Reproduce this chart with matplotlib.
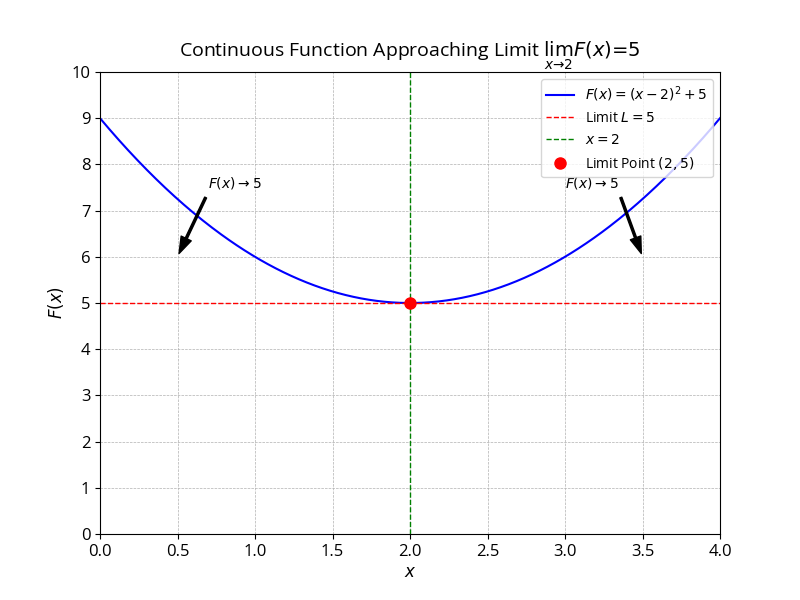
import matplotlib
matplotlib.use('Agg')
import matplotlib.pyplot as plt
import numpy as np

plt.rcParams['font.family'] = ['Open Sans', 'DejaVu Sans']

# curve F(x) = (x-2)^2 + 5 on [0, 4]
x_min, x_max = 0, 4
limit_x = 2
limit_L = 5
arrow_text_pos = [(0.7, 7.5), (3.0, 7.5)]
arrow_tips = [(0.5, 6.0), (3.5, 6.0)]


def F(x):
	return (x - 2) ** 2 + 5


def main():
	x = np.linspace(x_min, x_max, 400)
	fig, ax = plt.subplots(figsize=(8, 6), dpi=100)
	ax.plot(x, F(x), color='blue', label=r'$F(x) = (x - 2)^2 + 5$')
	ax.axhline(limit_L, color='red', linestyle='--', linewidth=1, label=r'Limit $L = 5$')
	ax.axvline(limit_x, color='green', linestyle='--', linewidth=1, label=r'$x = 2$')
	ax.plot(limit_x, limit_L, 'o', color='red', markersize=8, label=r'Limit Point $(2, 5)$')

	for txt, tip in zip(arrow_text_pos, arrow_tips):
		ax.annotate(r'$F(x) \to 5$', xy=tip, xytext=txt,
			arrowprops=dict(facecolor='black', shrink=0.05, width=1.5, headwidth=8))

	ax.set_title(r'Continuous Function Approaching Limit $\lim_{x \to 2} F(x) = 5$', fontsize=14)
	ax.set_xlabel(r'$x$', fontsize=12)
	ax.set_ylabel(r'$F(x)$', fontsize=12)
	ax.set_xlim(x_min, x_max)
	ax.set_ylim(0, 10)
	ax.set_yticks(range(0, 11))
	ax.tick_params(labelsize=12)
	ax.grid(True, linestyle='--', linewidth=0.5)
	ax.legend(loc='upper right')
	plt.savefig('out.png')
	plt.close()


if __name__ == "__main__":
	main()
